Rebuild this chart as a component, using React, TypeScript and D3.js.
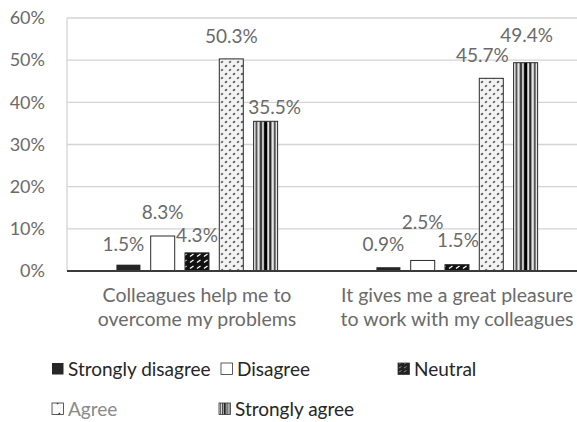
import React from "react";
import * as d3 from "d3";

// Survey answers, in percent, for the two statements
const categoryLines = [
  ["Colleagues help me to", "overcome my problems"],
  ["It gives me a great pleasure", "to work with my colleagues"],
];
const seriesNames = ["Strongly disagree", "Disagree", "Neutral", "Agree", "Strongly agree"];
const helpValues = [1.5, 8.3, 4.3, 50.3, 35.5];
const pleasureValues = [0.9, 2.5, 1.5, 45.7, 49.4];
const yTicks = [0, 10, 20, 30, 40, 50, 60];

const W = 577;
const H = 422;
const FONT = "Lato, 'Open Sans', sans-serif";
const GRAY = "#6a6a6a";

// Label offsets (dx, dy) from the bar's top-centre, spread apart so they don't collide
const labelNudges = [
  [[-5, -20], [0, -24], [0, -18], [0, -23], [9, -14]],
  [[-5, -23], [0, -38], [1, -24], [-9, -23], [1, -27]],
];

// Legend grid: column x and row y for each entry
const legendCols = [52, 221, 398, 52, 219];
const legendRows = [369, 369, 369, 409, 409];

const fills = ["#262626", "#ffffff", "url(#pNeutral)", "url(#pAgree)", "url(#pStrong)"];
const legendFills = ["#262626", "#ffffff", "url(#pNeutralS)", "url(#pAgreeS)", "url(#pStrong)"];

export default function App() {
  const values = [helpValues, pleasureValues];
  const plotLeft = 67;
  const plotRight = 587;
  const y = d3.scaleLinear().domain([0, 60]).range([271, 18]);
  const x0 = d3.scaleBand<number>().domain([0, 1]).range([plotLeft, plotRight]);
  const bw = x0.bandwidth();
  const x1 = d3
    .scaleBand<number>()
    .domain(d3.range(seriesNames.length))
    .range([bw * 0.19, bw * 0.81])
    .paddingInner(0.3);

  return (
    <svg
      width={W}
      height={H}
      style={{ position: "absolute", left: 0, top: 0, background: "#fff" }}
      fontFamily={FONT}
    >
      <defs>
        <pattern id="pNeutral" patternUnits="userSpaceOnUse" width="7" height="6">
          <rect width="7" height="6" fill="#111" />
          <path d="M1 4.5 L4.5 2" stroke="#fff" strokeWidth="1.3" />
        </pattern>
        <pattern id="pNeutralS" patternUnits="userSpaceOnUse" width="5" height="4">
          <rect width="5" height="4" fill="#222" />
          <path d="M1 3 L3.5 1.5" stroke="#aaa" strokeWidth="0.8" />
        </pattern>
        <pattern id="pAgree" patternUnits="userSpaceOnUse" width="8" height="8">
          <rect width="8" height="8" fill="#f2f2f2" />
          <ellipse cx="2" cy="2" rx="1.4" ry="1" fill="#555" transform="rotate(-35 2 2)" />
          <ellipse cx="6" cy="6" rx="1.4" ry="1" fill="#666" transform="rotate(-35 6 6)" />
        </pattern>
        <pattern id="pAgreeS" patternUnits="userSpaceOnUse" width="12" height="12">
          <rect width="12" height="12" fill="#fafafa" />
          <path d="M5 7 L8 4" stroke="#333" strokeWidth="1.2" />
        </pattern>
        <pattern id="pStrong" patternUnits="objectBoundingBox" patternContentUnits="objectBoundingBox" width="1" height="1">
          <rect width="1" height="1" fill="#e6e6e6" />
          <rect x="0.08" width="0.08" height="1" fill="#555" />
          <rect x="0.26" width="0.09" height="1" fill="#222" />
          <rect x="0.43" width="0.14" height="1" fill="#000" />
          <rect x="0.65" width="0.09" height="1" fill="#222" />
          <rect x="0.84" width="0.08" height="1" fill="#555" />
        </pattern>
      </defs>

      {/* gridlines and value axis labels */}
      {yTicks.slice(1).map((t) => (
        <line key={t} x1={plotLeft} x2={plotRight} y1={y(t)} y2={y(t)} stroke="#d4d4d4" strokeWidth={1.3} />
      ))}
      <line x1={plotLeft} x2={plotLeft} y1={y(60)} y2={y(0)} stroke="#d4d4d4" strokeWidth={1.3} />
      {yTicks.map((t) => (
        <text key={t} x={45} y={y(t)} dy="0.35em" textAnchor="end" fontSize={18} fill={GRAY}>
          {t}%
        </text>
      ))}

      {/* bars */}
      {values.map((vals, ci) =>
        vals.map((v, si) => {
          const bx = (x0(ci) as number) + (x1(si) as number);
          return (
            <rect
              key={`${ci}-${si}`}
              x={bx}
              y={y(v)}
              width={x1.bandwidth()}
              height={y(0) - y(v)}
              fill={fills[si]}
              stroke={si === 0 ? "none" : "#2a2a2a"}
              strokeWidth={1}
            />
          );
        })
      )}

      {/* baseline */}
      <line x1={plotLeft} x2={plotRight} y1={y(0)} y2={y(0)} stroke="#3a3a3a" strokeWidth={2} />

      {/* value labels */}
      {values.map((vals, ci) =>
        vals.map((v, si) => {
          const cx = (x0(ci) as number) + (x1(si) as number) + x1.bandwidth() / 2;
          const [dx, dy] = labelNudges[ci][si];
          return (
            <text
              key={`l${ci}-${si}`}
              x={cx + dx}
              y={y(v) + dy}
              dy="0.35em"
              textAnchor="middle"
              fontSize={19}
              fill={GRAY}
            >
              {v.toFixed(1)}%
            </text>
          );
        })
      )}

      {/* category labels */}
      {categoryLines.map((lines, ci) =>
        lines.map((ln, li) => (
          <text
            key={`c${ci}-${li}`}
            x={(x0(ci) as number) + bw / 2}
            y={302 + li * 24}
            textAnchor="middle"
            fontSize={19.5}
            fill={GRAY}
          >
            {ln}
          </text>
        ))
      )}

      {/* legend */}
      {seriesNames.map((name, i) => (
        <g key={name} transform={`translate(${legendCols[i]},${legendRows[i]})`}>
          <rect
            x={0}
            y={-6}
            width={11.5}
            height={11.5}
            fill={legendFills[i]}
            stroke={i === 0 ? "none" : "#333"}
            strokeWidth={0.8}
          />
          <text x={16} y={0} dy="0.35em" fontSize={19} fill={i === 3 ? "#8a8a8a" : "#262626"}>
            {name}
          </text>
        </g>
      ))}
    </svg>
  );
}
